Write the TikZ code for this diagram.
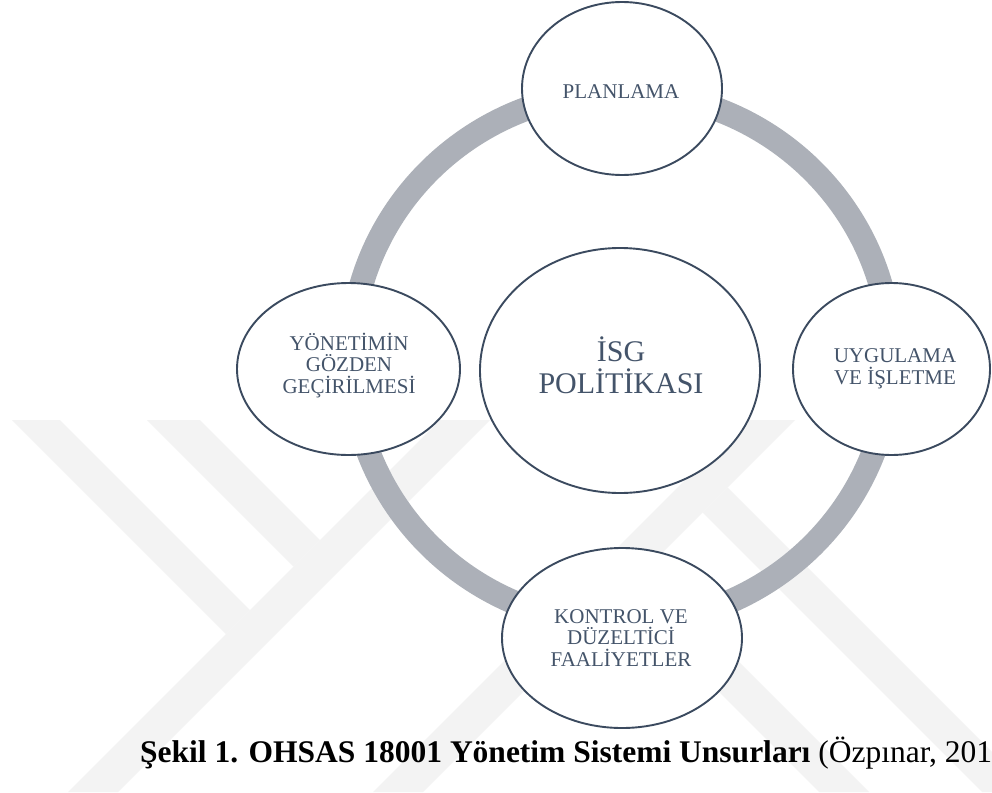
\documentclass[tikz,border=0pt]{standalone}
\usepackage{fontspec}
\usepackage{graphicx}
\setmainfont{Liberation Serif}
\usetikzlibrary{shapes.geometric}
\definecolor{txtc}{HTML}{44546A}
\definecolor{edgec}{HTML}{3B4A5F}
\definecolor{ringc}{HTML}{ACB0B8}
\definecolor{wmc}{HTML}{F3F3F3}
\begin{document}
\begin{tikzpicture}[x=1pt,y=-1pt,
  bub/.style={ellipse, draw=edgec, line width=1.9pt, fill=white, inner sep=0pt},
  lbl/.style={text=txtc, align=center, font=\fontsize{21}{21.7}\selectfont, inner sep=0pt},
  wm/.style={fill=wmc, draw=none}]
\useasboundingbox (0,0) rectangle (992,792);
\fill[white] (0,0) rectangle (992,792);
% watermark
\path[wm] (440,420) -- (490,420) -- (118,792) -- (68,792) -- cycle;
\path[wm] (745,420) -- (795,420) -- (423,792) -- (373,792) -- cycle;
\path[wm] (12,420) -- (60,420) -- (250,610) -- (226,634) -- cycle;
\path[wm] (147,420) -- (200,420) -- (320,540) -- (293.5,566.5) -- cycle;
\path[wm] (727.5,487.5) -- (702.5,512.5) -- (982,792) -- (1032,792) -- cycle;
\path[wm] (646,569) -- (621,594) -- (819,792) -- (869,792) -- cycle;
% ring
\draw[ringc, line width=24pt] (621,358) ellipse [x radius=270, y radius=266];
% bubbles
\node[bub, minimum width=200pt, minimum height=173pt] (plan) at (622,88.5) {};
\node[bub, minimum width=280pt, minimum height=245pt] (isg) at (620,370.5) {};
\node[bub, minimum width=223pt, minimum height=172pt] (ygg) at (348.5,369) {};
\node[bub, minimum width=197pt, minimum height=172pt] (uyg) at (891.5,369) {};
\node[bub, minimum width=240pt, minimum height=180pt] (kon) at (622,638) {};
% texts
\node[lbl] (tplan) at (621,92) {PLANLAMA};
\node[lbl, font=\fontsize{30}{32}\selectfont] (tisg) at (621,365.5) {İSG\\POLİTİKASI};
\node[lbl] (tygg) at (349,365.5) {YÖNETİMİN\\GÖZDEN\\GEÇİRİLMESİ};
\node[lbl] (tuyg) at (895,368.5) {UYGULAMA\\VE İŞLETME};
\node[lbl] (tkon) at (621,638) {KONTROL VE\\DÜZELTİCİ\\FAALİYETLER};
% caption
\node[anchor=base west, inner sep=0pt, text=black] (cap) at (140,762)
  {\fontsize{31.5}{33}\selectfont\textbf{Şekil 1. OHSAS 18001 Yönetim Sistemi Unsurları} (Özpınar, 201};
\end{tikzpicture}
\end{document}
